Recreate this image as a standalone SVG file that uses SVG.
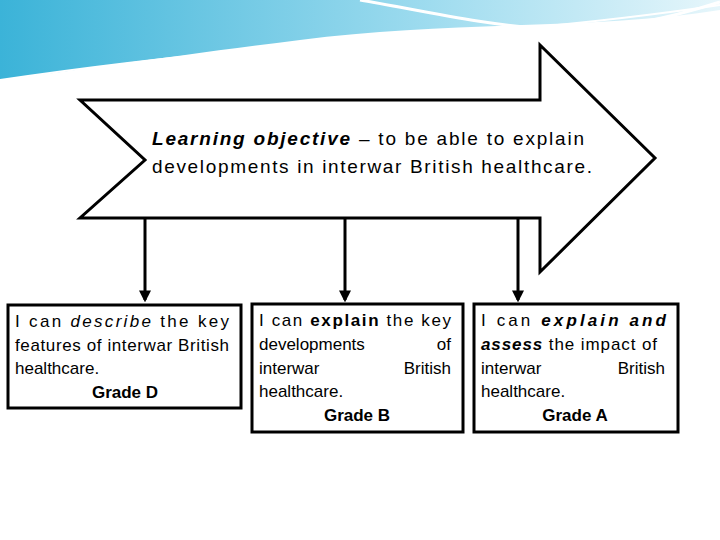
<svg xmlns="http://www.w3.org/2000/svg" width="720" height="540" viewBox="0 0 720 540">
<defs>
<linearGradient id="g" x1="0" y1="0" x2="1" y2="0"><stop offset="0" stop-color="#3bb3d8"/><stop offset="0.6" stop-color="#9fdcef"/><stop offset="1" stop-color="#e6f6fb"/></linearGradient>
<marker id="ah" viewBox="0 0 10 10" refX="8" refY="5" markerWidth="4" markerHeight="4" orient="auto"><path d="M0,0 L10,5 L0,10 z" fill="#000"/></marker>
<style>
.b{fill:#fff;stroke:#000;stroke-width:3}
.t{font-family:"Liberation Sans",Arial,sans-serif;font-size:17px;fill:#000}
.c{stroke:#000;stroke-width:3;fill:none;marker-end:url(#ah)}
</style>
</defs>
<rect width="720" height="540" fill="#fff"/>
<g id="decor">
<path d="M0,0 H720 V10 C600,30 450,20 300,40 C180,55 80,70 0,80 Z" fill="url(#g)"/>
<path d="M0,80 C120,62 250,48 400,38 C520,30 620,20 720,5" fill="none" stroke="#fff" stroke-width="2"/>
<path d="M360,0 C420,10 480,25 560,30 C620,30 680,15 720,2" fill="none" stroke="#fff" stroke-width="3"/>
</g>
<g id="objective">
<path class="b" d="M80,100 H540 V45 L655,158 L540,272 V218 H80 L145,160 Z"/>
<text class="t" x="152" y="145" style="font-size:19px" textLength="432"><tspan font-weight="bold" font-style="italic">Learning objective</tspan> – to be able to explain</text>
<text class="t" x="152" y="173" style="font-size:19px" textLength="440">developments in interwar British healthcare.</text>
</g>
<g id="connectors">
<line class="c" x1="145" y1="218" x2="145" y2="300"/>
<line class="c" x1="345" y1="218" x2="345" y2="300"/>
<line class="c" x1="518" y1="218" x2="518" y2="300"/>
</g>
<g id="gradeD">
<rect class="b" x="8" y="305" width="233" height="103"/>
<text class="t" x="15" y="327" textLength="214">I can <tspan font-style="italic">describe</tspan> the key</text>
<text class="t" x="15" y="351" textLength="214">features of interwar British</text>
<text class="t" x="15" y="374">healthcare.</text>
<text class="t" x="125" y="398" text-anchor="middle" font-weight="bold">Grade D</text>
</g>
<g id="gradeB">
<rect class="b" x="252" y="304" width="211" height="128"/>
<text class="t" x="259" y="326" textLength="192">I can <tspan font-weight="bold">explain</tspan> the key</text>
<text class="t" x="259" y="350">developments</text><text class="t" x="451" y="350" text-anchor="end">of</text>
<text class="t" x="259" y="374">interwar</text><text class="t" x="451" y="374" text-anchor="end">British</text>
<text class="t" x="259" y="397">healthcare.</text>
<text class="t" x="357" y="421" text-anchor="middle" font-weight="bold">Grade B</text>
</g>
<g id="gradeA">
<rect class="b" x="474" y="304" width="204" height="128"/>
<text class="t" x="481" y="326" textLength="185">I can <tspan font-weight="bold" font-style="italic">explain and</tspan></text>
<text class="t" x="481" y="350" textLength="176"><tspan font-weight="bold" font-style="italic">assess</tspan> the impact of</text>
<text class="t" x="481" y="374">interwar</text><text class="t" x="665" y="374" text-anchor="end">British</text>
<text class="t" x="481" y="397">healthcare.</text>
<text class="t" x="575" y="421" text-anchor="middle" font-weight="bold">Grade A</text>
</g>
</svg>
